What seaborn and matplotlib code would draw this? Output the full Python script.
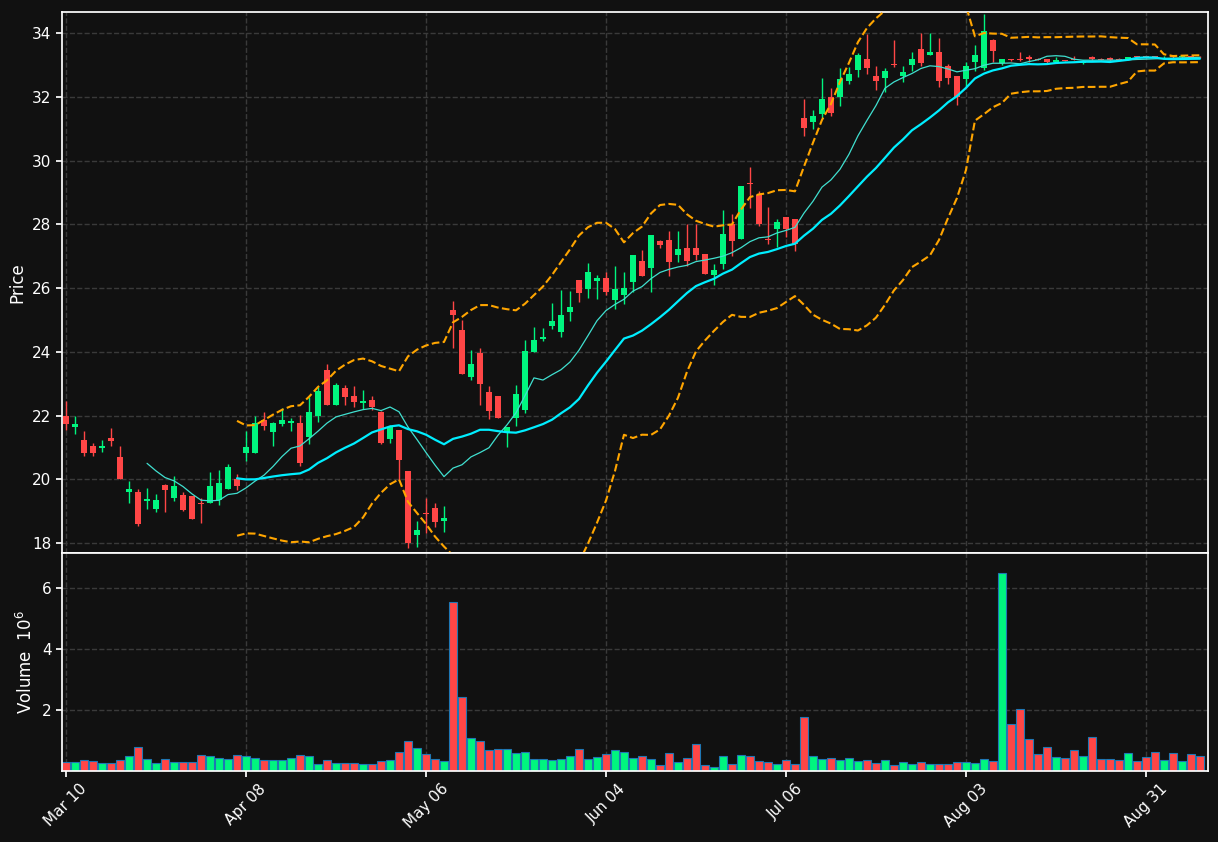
import numpy as np
import pandas as pd
import matplotlib
matplotlib.use("Agg")
import matplotlib.pyplot as plt
import seaborn as sns

# ── OHLC data (one row per trading day) ──
opens = [22.00, 21.64, 21.25, 21.04, 20.97, 21.31, 20.69, 19.60, 19.59, 19.32,
         19.06, 19.81, 19.42, 19.50, 19.47, 19.25, 19.25, 19.34, 19.69, 20.00,
         20.84, 20.82, 21.86, 21.47, 21.75, 21.76, 21.78, 21.32, 21.98, 23.44,
         22.34, 22.88, 22.62, 22.38, 22.50, 22.10, 21.27, 21.55, 20.27, 18.26,
         18.95, 19.11, 18.68, 25.32, 24.69, 23.20, 23.97, 22.75, 22.62, 21.50,
         21.91, 22.16, 24.01, 24.39, 24.80, 24.63, 25.24, 26.24, 25.97, 26.22,
         26.32, 25.64, 25.77, 26.19, 26.84, 26.63, 27.47, 27.51, 27.03, 27.26,
         27.26, 27.06, 26.40, 26.76, 28.01, 27.55, 29.29, 28.91, 27.54, 27.84,
         28.23, 28.17, 31.32, 31.21, 31.45, 31.98, 31.99, 32.49, 32.83, 33.20,
         32.64, 32.58, 33.03, 32.65, 32.99, 33.51, 33.30, 33.39, 32.98, 32.64,
         32.55, 33.08, 32.89, 33.79, 33.06, 33.18, 33.20, 33.26, 33.18, 33.20,
         33.10, 33.15, 33.19, 33.05, 33.26, 33.20, 33.23, 33.20, 33.19, 33.27,
         33.26, 33.27, 33.24, 33.27, 33.25, 33.27, 33.26]
highs = [22.45, 22.00, 21.53, 21.15, 21.24, 21.62, 21.06, 19.94, 19.71, 19.74,
         19.55, 19.86, 20.11, 19.60, 19.47, 19.40, 20.24, 20.28, 20.49, 20.18,
         21.53, 21.98, 22.10, 21.79, 22.24, 21.93, 22.02, 22.57, 22.90, 23.63,
         23.02, 22.96, 22.94, 22.80, 22.63, 22.13, 21.71, 21.55, 20.27, 18.68,
         19.41, 19.25, 19.15, 25.58, 24.99, 24.05, 24.11, 22.92, 22.62, 21.65,
         22.96, 24.38, 24.78, 24.74, 25.54, 25.93, 25.91, 26.24, 26.80, 26.42,
         26.51, 26.69, 26.49, 27.05, 27.19, 27.68, 27.51, 27.79, 27.79, 28.00,
         28.00, 27.06, 26.74, 28.44, 28.32, 29.21, 29.80, 29.03, 28.55, 28.17,
         28.23, 28.17, 31.94, 31.60, 32.60, 32.28, 32.90, 32.92, 33.37, 33.98,
         32.96, 32.90, 33.77, 32.96, 33.40, 33.99, 34.00, 33.85, 33.04, 32.64,
         33.10, 33.64, 34.60, 33.80, 33.20, 33.20, 33.40, 33.30, 33.22, 33.20,
         33.25, 33.17, 33.27, 33.14, 33.28, 33.22, 33.25, 33.22, 33.26, 33.29,
         33.28, 33.29, 33.28, 33.29, 33.29, 33.29, 33.28]
lows = [21.55, 21.43, 20.73, 20.73, 20.85, 21.04, 20.00, 19.26, 18.55, 19.07,
        18.98, 18.98, 19.32, 19.01, 18.75, 18.64, 19.25, 19.19, 19.69, 19.67,
        20.57, 20.82, 21.55, 21.04, 21.66, 21.53, 20.41, 21.11, 21.79, 22.32,
        22.34, 22.33, 22.27, 22.22, 22.16, 21.12, 21.14, 19.99, 17.84, 17.89,
        18.31, 18.50, 18.34, 24.12, 23.31, 23.12, 22.34, 21.89, 21.92, 21.03,
        21.66, 22.08, 23.98, 24.35, 24.72, 24.46, 24.98, 25.55, 25.70, 25.66,
        25.78, 25.35, 25.50, 25.89, 26.38, 25.89, 27.26, 26.39, 26.82, 26.69,
        26.89, 26.44, 26.10, 26.61, 27.00, 27.55, 28.50, 27.95, 27.37, 27.29,
        27.61, 27.16, 30.77, 31.00, 31.35, 31.40, 31.70, 32.40, 32.62, 32.71,
        32.20, 32.14, 32.94, 32.45, 32.82, 32.96, 33.30, 32.30, 32.40, 31.74,
        32.30, 32.82, 32.84, 33.10, 33.00, 33.12, 33.12, 33.10, 33.14, 33.05,
        33.08, 33.11, 33.14, 33.03, 33.17, 33.15, 33.13, 33.14, 33.17, 33.22,
        33.23, 33.22, 33.22, 33.23, 33.23, 33.23, 33.22]
closes = [21.73, 21.73, 20.82, 20.82, 21.06, 21.19, 20.00, 19.69, 18.61, 19.38,
          19.34, 19.66, 19.78, 19.03, 18.75, 19.23, 19.78, 19.88, 20.40, 19.78,
          21.03, 21.78, 21.66, 21.76, 21.87, 21.82, 20.51, 22.12, 22.78, 22.32,
          22.97, 22.58, 22.44, 22.46, 22.26, 21.14, 21.63, 20.61, 18.00, 18.40,
          18.90, 18.65, 18.80, 25.14, 23.31, 23.61, 22.98, 22.13, 21.92, 21.65,
          22.68, 24.03, 24.38, 24.47, 24.98, 25.17, 25.40, 25.84, 26.49, 26.32,
          25.87, 25.96, 26.00, 27.03, 26.38, 27.66, 27.35, 26.82, 27.22, 26.85,
          27.04, 26.44, 26.56, 27.69, 27.48, 29.21, 29.26, 28.02, 27.52, 28.07,
          27.84, 27.39, 31.02, 31.41, 31.92, 31.49, 32.57, 32.73, 33.32, 32.90,
          32.49, 32.82, 33.00, 32.79, 33.20, 33.06, 33.41, 32.49, 32.58, 31.99,
          32.98, 33.32, 34.07, 33.43, 33.19, 33.15, 33.15, 33.18, 33.16, 33.08,
          33.16, 33.13, 33.16, 33.12, 33.19, 33.17, 33.15, 33.16, 33.24, 33.24,
          33.25, 33.24, 33.26, 33.25, 33.27, 33.25, 33.24]
# volume in millions
volumes = [0.28, 0.30, 0.36, 0.33, 0.26, 0.26, 0.36, 0.49, 0.79, 0.39,
           0.26, 0.39, 0.30, 0.30, 0.30, 0.54, 0.49, 0.43, 0.39, 0.54,
           0.49, 0.43, 0.36, 0.36, 0.36, 0.43, 0.54, 0.49, 0.23, 0.36,
           0.26, 0.26, 0.26, 0.23, 0.23, 0.33, 0.36, 0.62, 0.98, 0.75,
           0.56, 0.39, 0.33, 5.54, 2.43, 1.08, 0.98, 0.69, 0.72, 0.72,
           0.59, 0.62, 0.39, 0.39, 0.36, 0.39, 0.49, 0.72, 0.39, 0.46,
           0.56, 0.69, 0.62, 0.43, 0.49, 0.39, 0.20, 0.59, 0.30, 0.43,
           0.89, 0.20, 0.13, 0.49, 0.23, 0.52, 0.49, 0.33, 0.30, 0.23,
           0.36, 0.23, 1.77, 0.49, 0.39, 0.43, 0.36, 0.43, 0.33, 0.36,
           0.26, 0.36, 0.20, 0.30, 0.23, 0.28, 0.23, 0.23, 0.23, 0.28,
           0.30, 0.26, 0.39, 0.33, 6.49, 1.54, 2.03, 1.05, 0.56, 0.79,
           0.46, 0.43, 0.69, 0.49, 1.11, 0.39, 0.39, 0.36, 0.59, 0.33,
           0.46, 0.62, 0.36, 0.59, 0.33, 0.56, 0.49]
tick_labels = ["Mar 10", "Apr 08", "May 06", "Jun 04", "Jul 06", "Aug 03", "Aug 31"]
tick_step = 20

BG = "#111111"
UP = "#00f57f"
DOWN = "#ff4646"

sns.set_theme(style="dark", rc={
    "figure.facecolor": BG, "axes.facecolor": BG, "axes.edgecolor": "white",
    "text.color": "white", "axes.labelcolor": "white",
    "xtick.color": "white", "ytick.color": "white",
    "grid.color": "#3a3a3a", "grid.linestyle": "--",
})
plt.rcParams["font.family"] = ["DejaVu Sans"]

df = pd.DataFrame({"Open": opens, "High": highs, "Low": lows,
                   "Close": closes, "Volume": volumes})
df["idx"] = np.arange(len(df))
df["up"] = df["Close"] >= df["Open"]
df["color"] = np.where(df["up"], UP, DOWN)
df["ma10"] = df["Close"].rolling(10).mean()
df["ma20"] = df["Close"].rolling(20).mean()
std20 = df["Close"].rolling(20).std(ddof=0)
df["bb_up"] = df["ma20"] + 2 * std20
df["bb_lo"] = df["ma20"] - 2 * std20

W, H = 1218, 842
fig = plt.figure(figsize=(W / 100, H / 100), dpi=100)
ax = fig.add_axes([62 / W, 1 - 553 / H, (1208 - 62) / W, (553 - 12) / H])
axv = fig.add_axes([62 / W, 1 - 771 / H, (1208 - 62) / W, (771 - 553) / H], sharex=ax)

# candles
ax.vlines(df["idx"], df["Low"], df["High"], colors=df["color"], linewidth=1, zorder=3)
body_lo = df[["Open", "Close"]].min(axis=1)
body_h = (df["Close"] - df["Open"]).abs().clip(lower=0.02)
ax.bar(df["idx"], body_h, bottom=body_lo, width=0.6, color=df["color"], linewidth=0, zorder=4)

# moving averages and bands
sns.lineplot(data=df, x="idx", y="ma10", ax=ax, color="#40e0d0", linewidth=0.9, zorder=5)
sns.lineplot(data=df, x="idx", y="ma20", ax=ax, color="#00eeff", linewidth=1.6, zorder=5)
sns.lineplot(data=df, x="idx", y="bb_up", ax=ax, color="orange", linewidth=1.5, linestyle="--", zorder=5)
sns.lineplot(data=df, x="idx", y="bb_lo", ax=ax, color="orange", linewidth=1.5, linestyle="--", zorder=5)

ax.set_ylim(17.69, 34.66)
ax.set_xlim(-0.45, 126.9)
ax.set_ylabel("Price")
ax.set_xlabel("")
ax.grid(True, axis="both", linestyle="--", color="#3a3a3a")
ax.tick_params(axis="x", labelbottom=False, length=0)
ax.tick_params(axis="y", length=4, left=True)

# volume
axv.bar(df["idx"], df["Volume"], width=0.85, color=df["color"], edgecolor="#1f77b4", linewidth=0.8)
axv.set_ylim(0, 7.15)
axv.set_yticks([2, 4, 6])
axv.set_ylabel("Volume  $10^{6}$")
axv.grid(True, axis="both", linestyle="--", color="#3a3a3a")
axv.set_xticks(np.arange(len(tick_labels)) * tick_step)
axv.set_xticklabels(tick_labels, rotation=45, ha="center")
axv.tick_params(axis="x", length=4, bottom=True)
axv.tick_params(axis="y", length=4, left=True)

for a in (ax, axv):
    for s in a.spines.values():
        s.set_color("white")

fig.savefig("out.png", dpi=100, facecolor=BG)
